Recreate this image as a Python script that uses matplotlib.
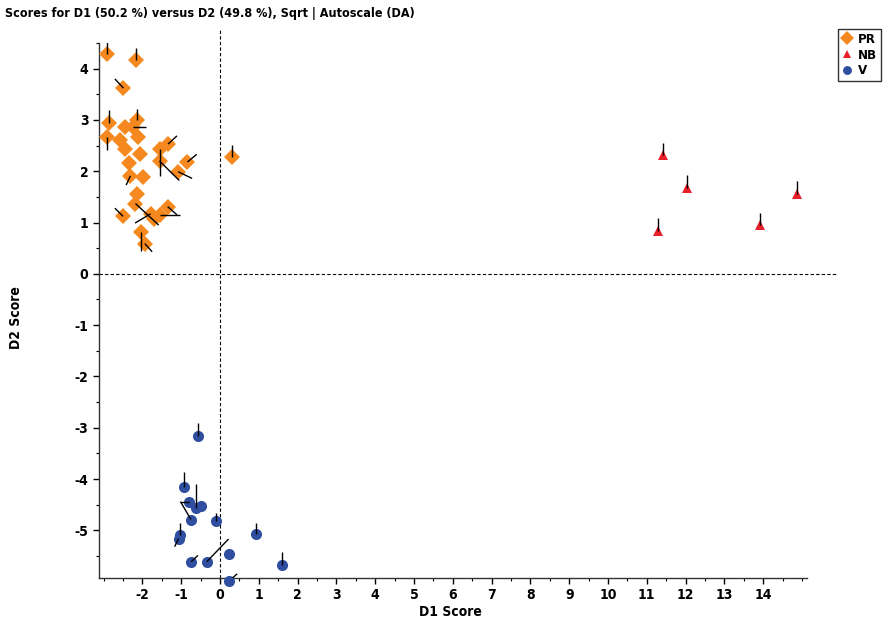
import matplotlib
matplotlib.use("Agg")
import matplotlib.pyplot as plt
import numpy as np
from matplotlib.lines import Line2D

plt.rcParams['font.family'] = ['Liberation Sans Narrow', 'DejaVu Sans']
plt.rcParams['font.stretch'] = 'condensed'
plt.rcParams['axes.unicode_minus'] = False

# ---- data ----
pr_x = [-2.92, -2.16, -2.49, -2.85, -2.44, -2.25, -2.14, -2.91, -2.59, -2.11,
        -2.46, -2.07, -1.56, -1.34, -1.56, -2.35, -0.84, -1.08, -2.31, -1.99,
        -2.15, -2.18, -2.50, -1.79, -1.69, -1.54, -1.35, -2.05, -1.94, 0.30]
pr_y = [4.29, 4.16, 3.62, 2.95, 2.87, 2.87, 3.00, 2.67, 2.61, 2.66,
        2.43, 2.33, 2.43, 2.53, 2.20, 2.16, 2.18, 1.99, 1.91, 1.89,
        1.56, 1.37, 1.12, 1.17, 1.07, 1.14, 1.31, 0.81, 0.59, 2.27]
# end-point offsets of the black lines attached to each point
pr_dx = [0, 0, -0.22, 0, 0, 0.33, 0, 0, 0, 0,
         0, 0, 0, 0.23, 0.51, 0, 0.24, 0.36, -0.11, 0,
         0, 0.60, -0.21, -0.40, 0, 0.51, 0.24, 0, 0.19, 0]
pr_dy = [0.24, 0.24, 0.18, 0.25, 0, 0, 0.22, -0.26, 0, 0,
         0, 0, -0.52, 0.16, -0.38, 0, 0.15, -0.13, -0.18, 0,
         0, -0.42, 0.16, -0.18, 0, 0, -0.16, -0.37, -0.16, 0.25]

nb_x = [11.41, 12.03, 14.87, 11.28, 13.93]
nb_y = [2.31, 1.67, 1.55, 0.83, 0.95]
nb_dx = [0, 0, 0, 0, 0]
nb_dy = [0.25, 0.25, 0.25, 0.25, 0.24]

v_x = [-0.57, -0.92, -0.81, -0.62, -0.50, -0.75, -0.11, -1.04, -1.07,
       0.92, 0.23, -0.74, -0.34, 1.60, 0.23]
v_y = [-3.16, -4.16, -4.45, -4.56, -4.53, -4.79, -4.81, -5.10, -5.16,
       -5.07, -5.46, -5.61, -5.61, -5.68, -5.99]
v_dx = [0, 0, -0.21, 0, 0, -0.27, 0, 0, -0.10,
        0, 0, 0.17, 0.56, 0, 0.21]
v_dy = [0.25, 0.30, 0, 0.47, 0, 0.35, 0.14, 0.25, -0.16,
        0.22, 0, 0.12, 0.44, 0.25, 0.14]

groups = [
    ("PR", pr_x, pr_y, pr_dx, pr_dy, "D", "#F5881F", 8.5),
    ("NB", nb_x, nb_y, nb_dx, nb_dy, "^", "#E8202A", 6.5),
    ("V", v_x, v_y, v_dx, v_dy, "o", "#2F4EA0", 8.0),
]

x_ticks = list(range(-2, 15))
y_ticks = list(range(-5, 5))

title = "Scores for D1 (50.2 %) versus D2 (49.8 %), Sqrt | Autoscale (DA)"

# ---- figure ----
fig = plt.figure(figsize=(8.86, 6.22), dpi=100)
ax = fig.add_axes([99/886, 1-578/622, (807-99)/886, (578-43)/622])

xlim = (-3.12, 15.13)
ylim = (-5.93, 4.47)
ax.set_xlim(*xlim)
ax.set_ylim(*ylim)

# zero reference lines (extend a little beyond the axes)
ax.plot([xlim[0], 15.9], [0, 0], ls=(0, (3, 2)), color="black", lw=0.8,
        clip_on=False, zorder=1)
ax.plot([0, 0], [ylim[0], 4.75], ls=(0, (3, 2)), color="black", lw=0.8,
        clip_on=False, zorder=1)

handles = []
for name, xs, ys, dxs, dys, mk, col, ms in groups:
    ax.plot(xs, ys, ls="none", marker=mk, color=col, markersize=ms,
            markeredgewidth=0, zorder=3, clip_on=False)
    for x, y, dx, dy in zip(xs, ys, dxs, dys):
        if dx != 0 or dy != 0:
            ax.plot([x, x + dx], [y, y + dy], color="black", lw=1.0,
                    zorder=4, solid_capstyle="butt")
    handles.append(Line2D([], [], ls="none", marker=mk, color=col,
                          markersize=ms * 0.8, markeredgewidth=0, label=name))

for s in ["top", "right"]:
    ax.spines[s].set_visible(False)
for s in ["left", "bottom"]:
    ax.spines[s].set_linewidth(1.0)
    ax.spines[s].set_color("#333333")

ax.set_xticks(x_ticks)
ax.set_yticks(y_ticks)
ax.set_xticks(np.arange(-3.0, 15.01, 0.5), minor=True)
ax.set_yticks(np.arange(-5.5, 4.51, 0.5), minor=True)
ax.tick_params(axis="both", which="major", direction="out", length=4,
               width=1, labelsize=10)
ax.tick_params(axis="both", which="minor", direction="out", length=2, width=0.8)
for lbl in ax.get_xticklabels() + ax.get_yticklabels():
    lbl.set_fontweight("bold")

fig.text(450/886, 1-612/622, "D1 Score", ha="center", va="center",
         fontsize=10, fontweight="bold")
fig.text(16/886, 1-318/622, "D2 Score", ha="center", va="center",
         rotation=90, fontsize=10, fontweight="bold")
fig.text(5/886, 1-14/622, title, ha="left", va="center",
         fontsize=9, fontweight="bold")

leg = fig.legend(handles=handles, loc="upper left",
                 bbox_to_anchor=(838/886, 1-29/622), frameon=True,
                 fancybox=False, borderpad=0.3, labelspacing=0.2,
                 handlelength=0.8, handletextpad=0.4, borderaxespad=0,
                 prop={"weight": "bold", "size": 9.5})
leg.get_frame().set_edgecolor("black")
leg.get_frame().set_linewidth(1.0)

fig.savefig("out.png", dpi=100)
